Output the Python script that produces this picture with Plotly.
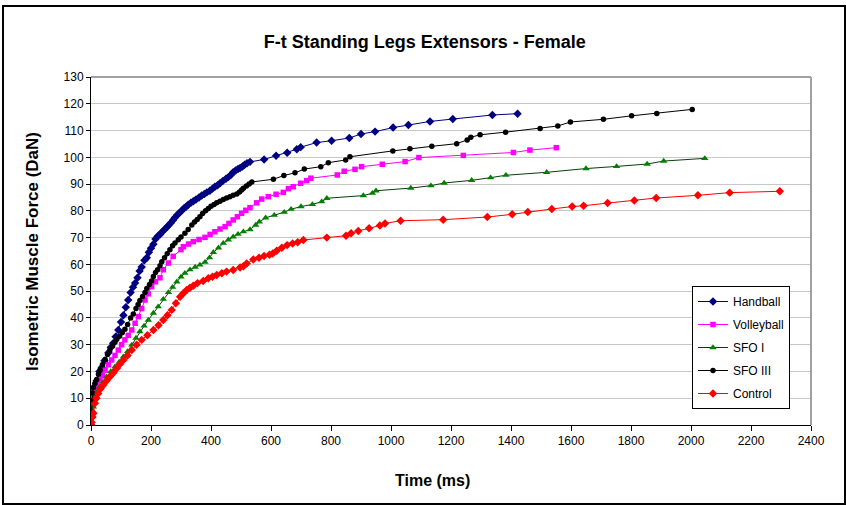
import plotly.graph_objects as go

# ---- data (time in ms, force in DaN) ----
handball_t = [0, 2, 5, 10, 19, 28, 36, 45, 58, 66, 74, 82, 91, 100, 108, 116, 124, 132, 140, 147,
              155, 162, 169, 178, 186, 193, 200, 208, 215, 222, 230, 236, 245, 252, 258, 266, 273,
              280, 288, 295, 302, 310, 317, 324, 333, 341, 350, 360, 369, 378, 386, 396, 405, 413,
              422, 430, 440, 450, 458, 466, 474, 482, 490, 497, 505, 512, 520, 530, 577, 617, 654,
              686, 699, 752, 802, 861, 900, 947, 1007, 1058, 1130, 1206, 1338, 1422]
handball_f = [0, 5, 10, 14, 16.5, 20, 21.5, 24, 27, 29, 30.5, 33, 35.5, 38.5, 41, 44, 46.7, 49.5,
              51.5, 53, 55, 57.5, 59, 61.5, 62.5, 64.5, 66, 67.5, 69.5, 70.5, 71.2, 72, 73, 73.8,
              74.5, 75.5, 76.5, 77.5, 78.5, 79.3, 80, 81, 81.5, 82.3, 83, 83.6, 84.2, 85, 85.7,
              86.3, 86.9, 87.5, 88.3, 89, 89.6, 90.3, 91.2, 92, 92.6, 93.4, 94.4, 95.1, 95.6, 96,
              96.6, 97.2, 97.8, 98.3, 99.2, 100.6, 101.7, 103, 103.8, 105.5, 106.2, 107.2, 108.7,
              109.6, 111.1, 112.1, 113.4, 114.3, 115.8, 116.3]

volleyball_t = [0, 0, 1, 4, 8, 13, 20, 30, 38, 47, 58, 69, 80, 91, 102, 113, 124, 136, 147, 158,
                169, 180, 191, 202, 215, 230, 241, 258, 274, 300, 308, 325, 341, 360, 380, 397,
                413, 430, 447, 460, 474, 488, 502, 516, 530, 552, 569, 591, 617, 641, 658, 674,
                699, 719, 733, 821, 844, 880, 902, 971, 1047, 1093, 1241, 1408, 1463, 1551]
volleyball_f = [0, 5, 9.5, 11, 12.3, 13.1, 15, 16.8, 18.5, 20.5, 22.5, 24.3, 26, 28, 30, 31.8,
                33.5, 35.5, 38, 40.5, 43.5, 46.7, 49, 51.7, 53.5, 55, 58, 60.5, 63, 65.5, 66.6,
                67.6, 68.5, 69.3, 70.1, 71.2, 72.2, 73.2, 74.1, 75.3, 76.6, 77.8, 79.1, 80.2,
                81.2, 83, 84.4, 85.3, 86.2, 86.9, 88.3, 89, 90.3, 91.3, 92.2, 93.4, 94.8, 95.5,
                96.5, 97.4, 98.4, 99.9, 100.7, 101.8, 102.7, 103.6]

sfo1_t = [0, 3, 8, 13, 20, 30, 40, 52, 66, 80, 94, 108, 122, 136, 150, 163, 177, 191, 208, 224,
          241, 258, 272, 286, 300, 313, 330, 347, 363, 380, 395, 408, 425, 441, 458, 474, 490,
          508, 530, 549, 561, 582, 611, 644, 667, 700, 738, 769, 786, 908, 938, 950, 1066, 1133,
          1177, 1269, 1332, 1383, 1519, 1650, 1752, 1854, 1909, 2046]
sfo1_f = [0, 4, 6.8, 10.6, 12.5, 14.3, 16, 18, 20, 21.8, 23.5, 25.5, 27.5, 29.9, 32.5, 34.9, 37,
          39.2, 41.8, 44.2, 47, 49.5, 51.5, 53.5, 55.3, 56.7, 58, 59, 59.8, 60.8, 62.5, 64.5,
          66.2, 67.9, 69.2, 70.3, 71.3, 72.2, 73, 74.7, 75.9, 77.4, 78.4, 79.5, 80.6, 81.6,
          82.4, 83.4, 84.7, 85.7, 86.6, 87.5, 88.5, 89.4, 90.4, 91.4, 92.4, 93.3, 94.4, 95.8,
          96.6, 97.5, 98.6, 99.6]

sfo3_t = [0, 2, 5, 8, 13, 19, 25, 30, 38, 47, 55, 63, 72, 80, 86, 95, 104, 113, 122, 132, 141,
          150, 157, 163, 172, 180, 186, 195, 202, 208, 215, 222, 230, 236, 245, 254, 263, 272,
          280, 291, 300, 313, 324, 336, 345, 354, 363, 372, 382, 391, 400, 410, 419, 430, 441,
          452, 463, 474, 486, 495, 502, 508, 518, 527, 536, 608, 643, 680, 711, 766, 791, 849,
          863, 1006, 1063, 1136, 1219, 1254, 1266, 1297, 1382, 1497, 1556, 1598, 1708, 1802,
          1886, 2004]
sfo3_f = [0, 9, 12, 14, 15.5, 17, 19, 20.5, 22.5, 24.5, 26.3, 28, 29.5, 31, 32, 33.2, 34.5,
          35.8, 37.5, 40, 41.5, 43.5, 45, 46.5, 48, 49.5, 51, 52.5, 53.8, 55.5, 57, 58, 59.5,
          61, 62.5, 64, 65.5, 67, 68, 69.2, 70.2, 71.6, 73, 74.7, 75.8, 76.8, 77.8, 79, 80,
          80.9, 81.7, 82.4, 83, 83.6, 84.2, 84.8, 85.3, 85.8, 86.3, 87, 87.8, 88.4, 89.3, 90,
          90.8, 91.8, 93.2, 94.2, 95.6, 96.5, 98, 99, 100.2, 102.4, 103.2, 104.1, 105.1, 106.5,
          107.5, 108.4, 109.4, 110.8, 111.7, 113.2, 114.2, 115.5, 116.4, 117.9]

control_t = [0, 2, 5, 8, 13, 18, 24, 32, 41, 52, 63, 75, 86, 97, 108, 122, 136, 152, 169, 188,
             208, 225, 241, 255, 269, 283, 297, 308, 319, 330, 341, 355, 374, 391, 405, 419, 436,
             452, 474, 497, 508, 519, 541, 560, 577, 595, 606, 619, 636, 654, 672, 689, 708, 786,
             850, 867, 891, 927, 963, 980, 1032, 1174, 1321, 1404, 1456, 1536, 1604, 1642, 1722,
             1811, 1884, 2023, 2129, 2296]
control_f = [0, 1, 3, 4.4, 8.1, 10, 11.8, 13.5, 14.9, 16.5, 18, 19.5, 21.2, 22.8, 24.3, 26, 28,
             30, 31.8, 33.5, 35.5, 37.3, 39.2, 41, 43, 45.5, 47.9, 49.2, 50.4, 51.3, 52, 53,
             53.8, 54.8, 55.4, 56, 56.7, 57.3, 57.9, 58.8, 59.3, 60.3, 61.8, 62.5, 63.1, 63.6,
             64.1, 65.1, 66.2, 67.2, 67.8, 68.3, 69.1, 70, 70.7, 71.6, 72.5, 73.5, 74.5, 75.3,
             76.3, 76.7, 77.7, 78.7, 79.6, 80.7, 81.6, 81.9, 82.9, 83.9, 84.8, 85.8, 86.8, 87.3]

names = ["Handball", "Volleyball", "SFO I", "SFO III", "Control"]
xs = [handball_t, volleyball_t, sfo1_t, sfo3_t, control_t]
ys = [handball_f, volleyball_f, sfo1_f, sfo3_f, control_f]
line_colors = ["#000080", "#FF00FF", "#0B3D0B", "#000000", "#FF0000"]
marker_colors = ["#000080", "#FF00FF", "#008000", "#000000", "#FF0000"]
symbols = ["diamond", "square", "triangle-up", "circle", "diamond"]
sizes = [6.5, 5.5, 6.5, 5.5, 6.5]

x_ticks = list(range(0, 2401, 200))
y_ticks = list(range(0, 131, 10))

fig = go.Figure()
for n, x, y, lc, mc, s, sz in zip(names, xs, ys, line_colors, marker_colors, symbols, sizes):
    fig.add_trace(go.Scatter(
        x=x, y=y, name=n, mode="lines+markers", legendgroup=n,
        line=dict(color=lc, width=1),
        marker=dict(symbol=s, size=sz, color=mc, line=dict(width=0)),
    ))

FONT = "Liberation Sans, Arial, sans-serif"
fig.update_layout(
    width=846, height=505,
    margin=dict(l=91, r=35, t=77, b=80),
    paper_bgcolor="white", plot_bgcolor="white",
    font=dict(family=FONT, size=12, color="black"),
    title=dict(text="<b>F-t Standing Legs Extensors - Female</b>", x=0.502, xanchor="center",
               y=1 - 42 / 505, yanchor="middle", font=dict(family=FONT, size=18, color="black")),
    showlegend=True,
    legend=dict(x=(692 - 91) / 720, y=(425 - 286) / 348, xanchor="left", yanchor="top",
                bgcolor="white", bordercolor="black", borderwidth=1,
                font=dict(family=FONT, size=12, color="black"), tracegroupgap=4),
    xaxis=dict(range=[0, 2400], tickvals=x_ticks, ticktext=[str(v) for v in x_ticks],
               showgrid=False, zeroline=False, showline=True, linecolor="black", linewidth=1,
               ticks="outside", ticklen=5, tickcolor="black", tickfont=dict(size=12)),
    yaxis=dict(range=[0, 130], tickvals=y_ticks, ticktext=[str(v) for v in y_ticks],
               showgrid=True, gridcolor="#C8C8C8", gridwidth=1, zeroline=False,
               showline=True, linecolor="black", linewidth=1,
               ticks="outside", ticklen=4, tickcolor="black", tickfont=dict(size=12)),
    annotations=[
        dict(text="<b>Isometric Muscle Force (DaN)</b>", xref="paper", yref="paper",
             x=(32 - 91) / 720, y=(425 - 252) / 348, textangle=-90, showarrow=False,
             xanchor="center", yanchor="middle", font=dict(family=FONT, size=17, color="black")),
        dict(text="<b>Time (ms)</b>", xref="paper", yref="paper",
             x=(432 - 91) / 720, y=(425 - 480) / 348, showarrow=False,
             xanchor="center", yanchor="middle", font=dict(family=FONT, size=16, color="black")),
    ],
    shapes=[
        dict(type="line", xref="paper", yref="paper", x0=0, x1=1, y0=1, y1=1,
             line=dict(color="#A0A0A0", width=2)),
        dict(type="line", xref="paper", yref="paper", x0=1, x1=1, y0=0, y1=1,
             line=dict(color="#A0A0A0", width=2)),
        dict(type="rect", xref="paper", yref="paper",
             x0=(3 - 91) / 720, x1=(845 - 91) / 720, y0=(425 - 504) / 348, y1=(425 - 6) / 348,
             line=dict(color="black", width=2), layer="below"),
    ],
)

fig.write_html("out.html")
